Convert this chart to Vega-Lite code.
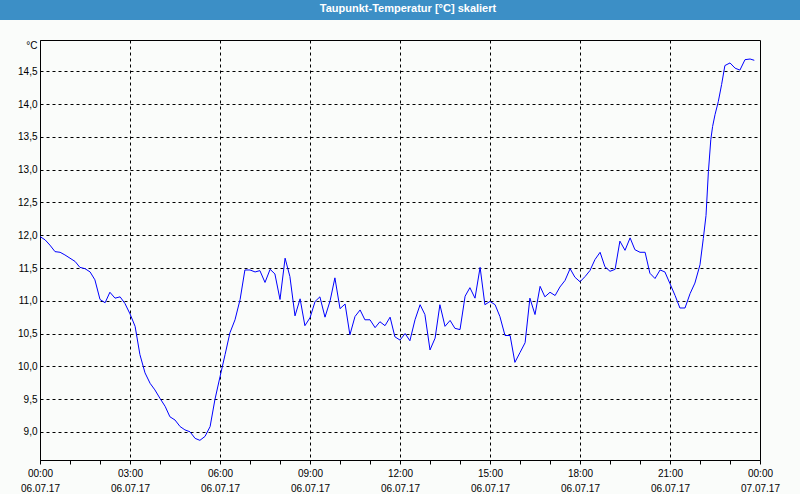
{
  "$schema": "https://vega.github.io/schema/vega-lite/v6.json",
  "background": "#fafcfa",
  "padding": 0,
  "bounds": "flush",
  "center": true,
  "spacing": 20,
  "config": {"view": {"stroke": null}, "font": "Liberation Sans"},
  "vconcat": [
    {
      "width": 800,
      "height": 20,
      "view": {"fill": "#3c8fc6", "stroke": null},
      "data": {"values": [{"title": "Taupunkt-Temperatur [°C] skaliert"}]},
      "mark": {"type": "text", "color": "white", "fontWeight": "bold", "fontSize": 11, "font": "Liberation Sans", "dx": 8, "dy": -1},
      "encoding": {"text": {"field": "title", "type": "nominal"}}
    },
    {
      "width": 720,
      "height": 420,
      "view": {"fill": null, "stroke": "black", "strokeWidth": 1},
      "data": {"values": [
        {"h": 0.00, "v": 11.98}, {"h": 0.17, "v": 11.93}, {"h": 0.33, "v": 11.85}, {"h": 0.50, "v": 11.75},
        {"h": 0.67, "v": 11.74}, {"h": 0.83, "v": 11.70}, {"h": 1.00, "v": 11.65}, {"h": 1.17, "v": 11.60},
        {"h": 1.33, "v": 11.51}, {"h": 1.50, "v": 11.49}, {"h": 1.67, "v": 11.44}, {"h": 1.83, "v": 11.32},
        {"h": 2.00, "v": 11.02}, {"h": 2.17, "v": 10.97}, {"h": 2.33, "v": 11.13}, {"h": 2.50, "v": 11.04},
        {"h": 2.67, "v": 11.06}, {"h": 2.83, "v": 10.96}, {"h": 3.00, "v": 10.80}, {"h": 3.17, "v": 10.61},
        {"h": 3.33, "v": 10.18}, {"h": 3.50, "v": 9.90}, {"h": 3.67, "v": 9.74}, {"h": 3.83, "v": 9.64},
        {"h": 4.00, "v": 9.51}, {"h": 4.17, "v": 9.39}, {"h": 4.33, "v": 9.23}, {"h": 4.50, "v": 9.18},
        {"h": 4.67, "v": 9.08}, {"h": 4.83, "v": 9.03}, {"h": 5.00, "v": 9.00}, {"h": 5.17, "v": 8.90},
        {"h": 5.33, "v": 8.87}, {"h": 5.50, "v": 8.93}, {"h": 5.67, "v": 9.08}, {"h": 5.83, "v": 9.49},
        {"h": 6.00, "v": 9.84}, {"h": 6.17, "v": 10.18}, {"h": 6.33, "v": 10.51}, {"h": 6.50, "v": 10.71},
        {"h": 6.67, "v": 11.02}, {"h": 6.83, "v": 11.47}, {"h": 7.00, "v": 11.47}, {"h": 7.17, "v": 11.44},
        {"h": 7.33, "v": 11.46}, {"h": 7.50, "v": 11.28}, {"h": 7.67, "v": 11.48}, {"h": 7.83, "v": 11.41},
        {"h": 8.00, "v": 11.02}, {"h": 8.17, "v": 11.65}, {"h": 8.33, "v": 11.37}, {"h": 8.50, "v": 10.77},
        {"h": 8.67, "v": 11.03}, {"h": 8.83, "v": 10.62}, {"h": 9.00, "v": 10.74}, {"h": 9.17, "v": 10.99},
        {"h": 9.33, "v": 11.06}, {"h": 9.50, "v": 10.75}, {"h": 9.67, "v": 11.00}, {"h": 9.83, "v": 11.35},
        {"h": 10.00, "v": 10.88}, {"h": 10.17, "v": 10.95}, {"h": 10.33, "v": 10.48}, {"h": 10.50, "v": 10.76},
        {"h": 10.67, "v": 10.86}, {"h": 10.83, "v": 10.71}, {"h": 11.00, "v": 10.71}, {"h": 11.17, "v": 10.59},
        {"h": 11.33, "v": 10.68}, {"h": 11.50, "v": 10.62}, {"h": 11.67, "v": 10.75}, {"h": 11.83, "v": 10.45},
        {"h": 12.00, "v": 10.40}, {"h": 12.17, "v": 10.50}, {"h": 12.33, "v": 10.39}, {"h": 12.50, "v": 10.71},
        {"h": 12.67, "v": 10.94}, {"h": 12.83, "v": 10.79}, {"h": 13.00, "v": 10.25}, {"h": 13.17, "v": 10.43},
        {"h": 13.33, "v": 10.94}, {"h": 13.50, "v": 10.61}, {"h": 13.67, "v": 10.70}, {"h": 13.83, "v": 10.58},
        {"h": 14.00, "v": 10.56}, {"h": 14.17, "v": 11.07}, {"h": 14.33, "v": 11.20}, {"h": 14.50, "v": 11.04},
        {"h": 14.67, "v": 11.51}, {"h": 14.83, "v": 10.94}, {"h": 15.00, "v": 10.99}, {"h": 15.17, "v": 10.94},
        {"h": 15.33, "v": 10.76}, {"h": 15.50, "v": 10.47}, {"h": 15.67, "v": 10.47}, {"h": 15.83, "v": 10.06},
        {"h": 16.00, "v": 10.21}, {"h": 16.17, "v": 10.36}, {"h": 16.33, "v": 11.04}, {"h": 16.50, "v": 10.79},
        {"h": 16.67, "v": 11.22}, {"h": 16.83, "v": 11.06}, {"h": 17.00, "v": 11.13}, {"h": 17.17, "v": 11.08},
        {"h": 17.33, "v": 11.21}, {"h": 17.50, "v": 11.31}, {"h": 17.67, "v": 11.49}, {"h": 17.83, "v": 11.36},
        {"h": 18.00, "v": 11.29}, {"h": 18.17, "v": 11.37}, {"h": 18.33, "v": 11.46}, {"h": 18.50, "v": 11.63},
        {"h": 18.67, "v": 11.74}, {"h": 18.83, "v": 11.52}, {"h": 19.00, "v": 11.45}, {"h": 19.17, "v": 11.48},
        {"h": 19.33, "v": 11.91}, {"h": 19.50, "v": 11.77}, {"h": 19.67, "v": 11.96}, {"h": 19.83, "v": 11.78},
        {"h": 20.00, "v": 11.74}, {"h": 20.17, "v": 11.74}, {"h": 20.33, "v": 11.42}, {"h": 20.50, "v": 11.34},
        {"h": 20.67, "v": 11.47}, {"h": 20.83, "v": 11.44}, {"h": 21.00, "v": 11.26}, {"h": 21.17, "v": 11.08},
        {"h": 21.33, "v": 10.89}, {"h": 21.50, "v": 10.89}, {"h": 21.67, "v": 11.11}, {"h": 21.83, "v": 11.27},
        {"h": 22.00, "v": 11.55}, {"h": 22.11, "v": 11.95}, {"h": 22.20, "v": 12.30}, {"h": 22.28, "v": 12.97},
        {"h": 22.36, "v": 13.46}, {"h": 22.42, "v": 13.66}, {"h": 22.50, "v": 13.84}, {"h": 22.61, "v": 14.04},
        {"h": 22.72, "v": 14.30}, {"h": 22.83, "v": 14.59}, {"h": 23.00, "v": 14.63}, {"h": 23.17, "v": 14.55},
        {"h": 23.33, "v": 14.52}, {"h": 23.50, "v": 14.68}, {"h": 23.67, "v": 14.69}, {"h": 23.81, "v": 14.67}
      ]},
      "mark": {"type": "line", "color": "#0000ff", "strokeWidth": 1},
      "encoding": {
        "x": {
          "field": "h",
          "type": "quantitative",
          "scale": {"domain": [0, 24], "nice": false, "zero": false},
          "axis": {
            "title": null,
            "values": [0,1,2,3,4,5,6,7,8,9,10,11,12,13,14,15,16,17,18,19,20,21,22,23,24],
            "labelExpr": "datum.value % 3 === 0 ? [(datum.value % 24 < 10 ? '0' : '') + (datum.value % 24) + ':00', datum.value < 24 ? '06.07.17' : '07.07.17'] : ''",
            "labelLineHeight": 15,
            "labelPadding": 4,
            "labelFontSize": 10,
            "labelFont": "Liberation Sans",
            "labelColor": "#000000",
            "labelOverlap": false,
            "labelFlush": false,
            "labelBound": false,
            "tickSize": 4,
            "tickColor": "#000000",
            "domainColor": "#000000",
            "grid": true,
            "gridColor": "#000000",
            "gridDash": [3, 3],
            "gridOpacity": {"condition": {"test": "datum.value % 3 === 0 && datum.value > 0 && datum.value < 24", "value": 1}, "value": 0}
          }
        },
        "y": {
          "field": "v",
          "type": "quantitative",
          "scale": {"domain": [8.57, 14.98], "nice": false, "zero": false},
          "axis": {
            "values": [9, 9.5, 10, 10.5, 11, 11.5, 12, 12.5, 13, 13.5, 14, 14.5],
            "labelExpr": "replace(format(datum.value, '.1f'), '.', ',')",
            "labelFontSize": 10,
            "labelFont": "Liberation Sans",
            "labelColor": "#000000",
            "labelPadding": 3,
            "tickSize": 0,
            "domainColor": "#000000",
            "grid": true,
            "gridColor": "#000000",
            "gridDash": [3, 3],
            "title": "°C",
            "titleAngle": 0,
            "titleAlign": "right",
            "titleBaseline": "middle",
            "titleX": -3,
            "titleY": 5,
            "titleFontSize": 10,
            "titleFont": "Liberation Sans",
            "titleFontWeight": "normal",
            "titleColor": "#000000"
          }
        }
      }
    }
  ]
}
